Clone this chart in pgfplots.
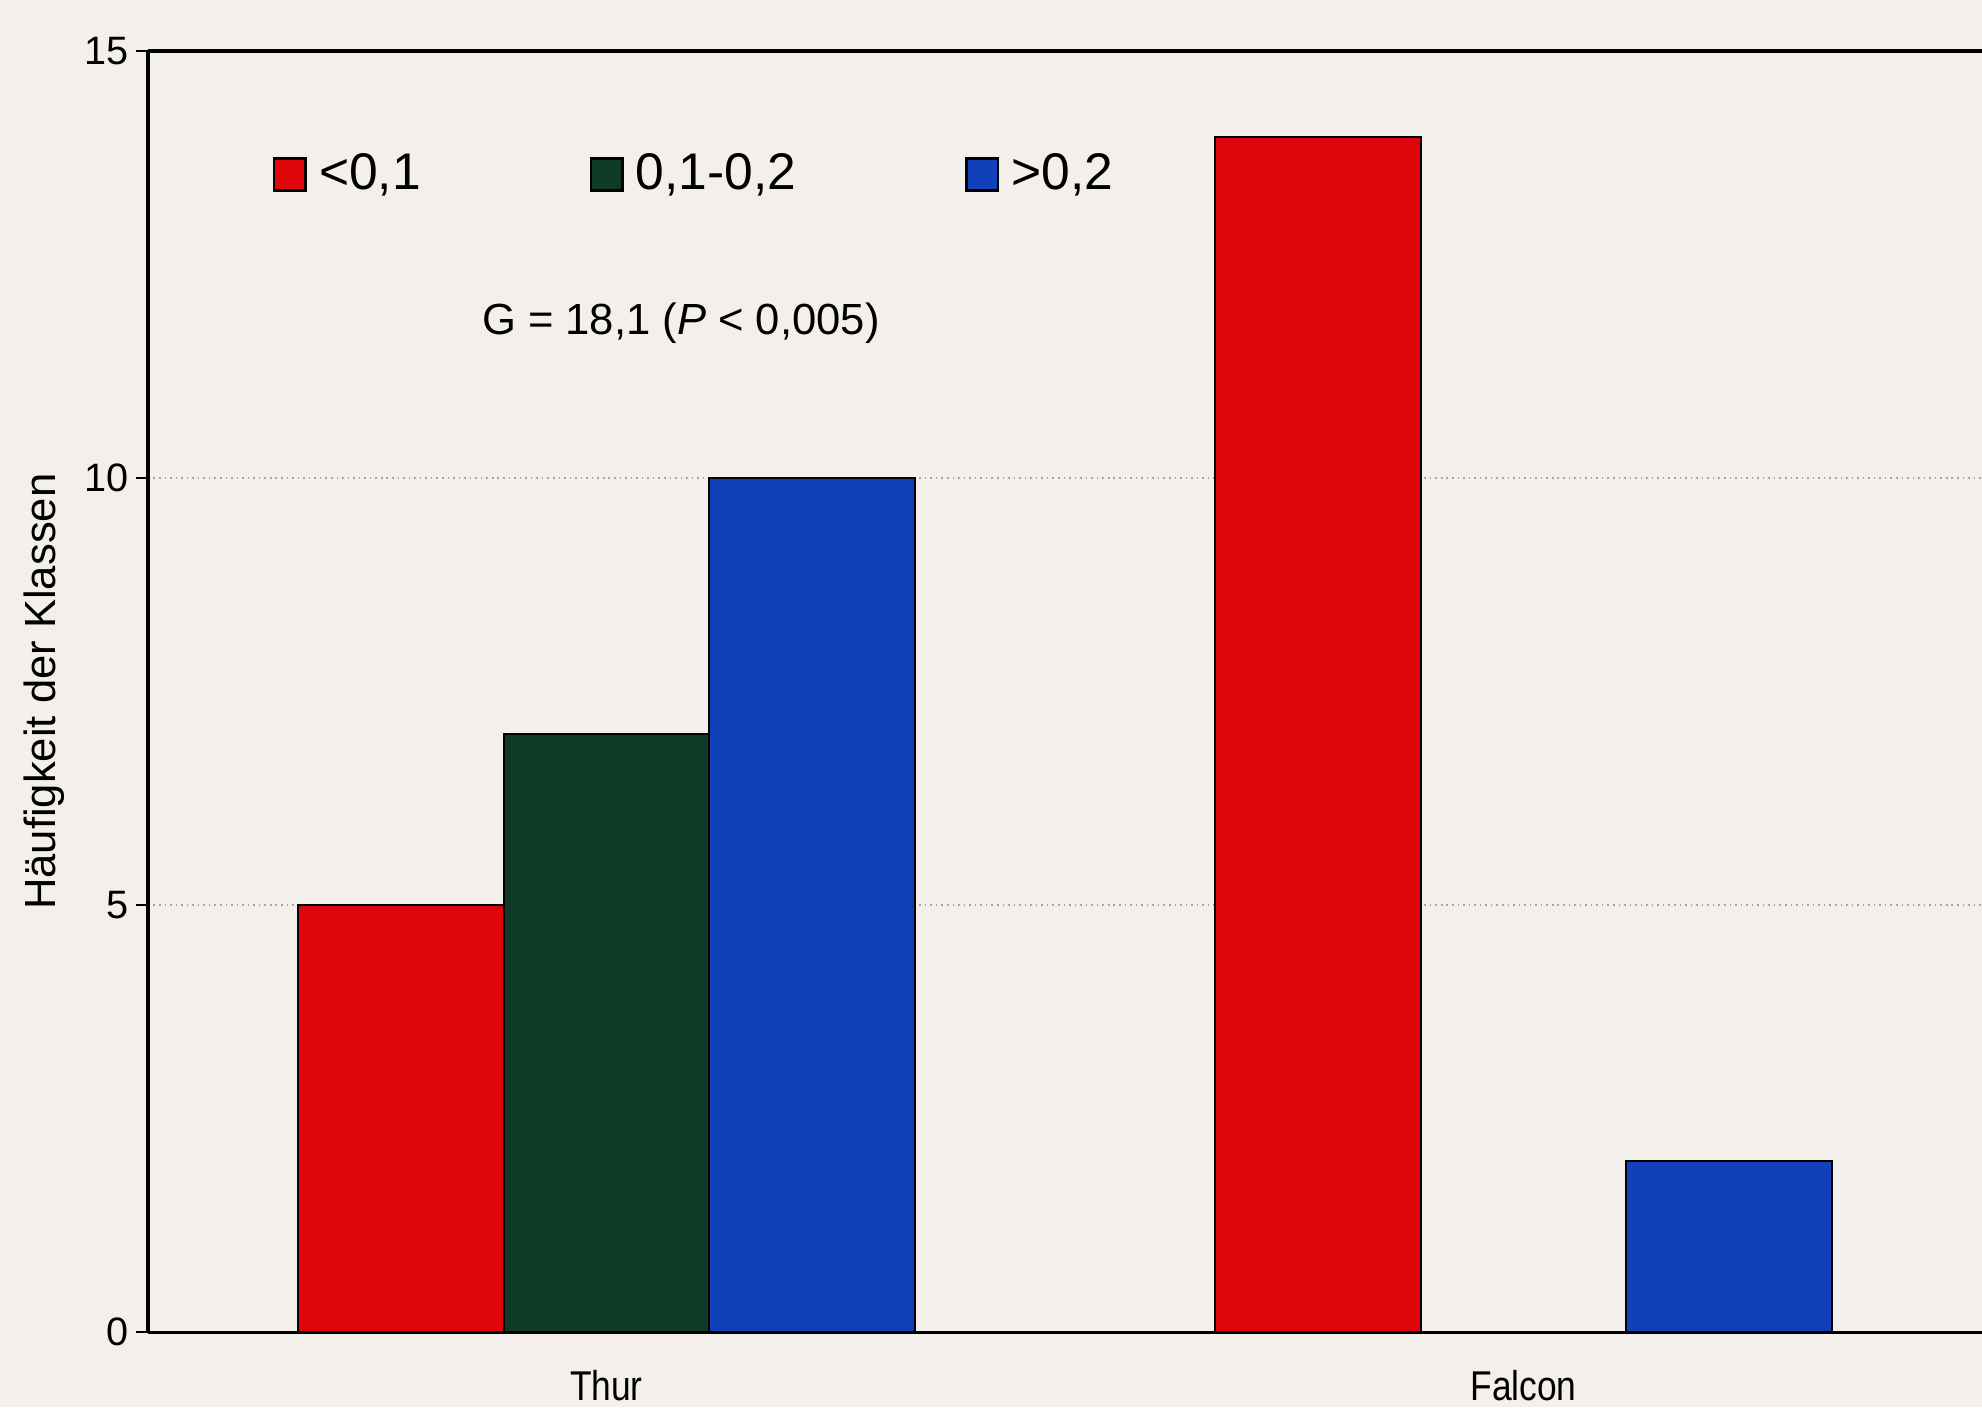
\documentclass[border=0pt]{standalone}
\usepackage{pgfplots}
\pgfplotsset{compat=1.18}
\usepackage{fontspec}
\setmainfont{Liberation Sans}
\newfontfamily\narrowfont[FakeStretch=0.85]{Liberation Sans}
\definecolor{barred}{RGB}{222,6,10}
\definecolor{bargreen}{RGB}{14,58,38}
\definecolor{barblue}{RGB}{18,64,186}
\definecolor{bgcol}{RGB}{243,240,236}
\begin{document}
\begin{tikzpicture}
\fill[bgcol] (-37.3pt,-18.9pt) rectangle (462.7pt,336.1pt);
\begin{axis}[
  at={(0pt,0pt)}, anchor=south west,
  scale only axis, width=462.7pt, height=323.2pt,
  xmin=-0.5, xmax=1.5, ymin=0, ymax=15,
  axis x line*=box, axis y line*=left,
  axis line style={line width=0.9pt, black},
  xtick={0,1}, xticklabels={Thur,Falcon},
  xticklabel style={font=\narrowfont\fontsize{10.5}{12}\selectfont, anchor=base, yshift=-14.2pt},
  major x tick style={draw=none},
  ytick={0,5,10,15},
  ytick align=outside, major tick length=3pt,
  major y tick style={black, line width=0.6pt},
  yticklabel style={font=\fontsize{10}{12}\selectfont, xshift=1.6pt},
  /pgf/number format/assume math mode=true,
  ymajorgrids, major grid style={densely dotted, black!35, line width=0.6pt},
  ylabel={Häufigkeit der Klassen},
  every axis y label/.style={at={(axis description cs:-0.0564,0.5)}, rotate=90, anchor=center, font=\fontsize{11}{13}\selectfont},
  ybar=0pt, bar width=0.224,
  legend columns=3,
  legend style={at={(axis description cs:0.0676,0.9037)}, anchor=west, draw=none, fill=none, inner sep=0pt,
    font=\fontsize{13}{15}\selectfont,
    /tikz/every odd column/.append style={column sep=1.5pt},
    /tikz/every even column/.append style={column sep=41pt},
    nodes={inner sep=1.6pt}},
  legend cell align=left,
]
\addplot[fill=barred, draw=black, line width=0.5pt, bar shift=-0.224,
  legend image code/.code={\draw[fill=barred, draw=black, line width=0.6pt] (0pt,-4pt) rectangle (8pt,4pt);}]
  coordinates {(0,5) (1,14)};
\addlegendentry{<0,1}
\addplot[fill=bargreen, draw=black, line width=0.5pt, bar shift=0,
  legend image code/.code={\draw[fill=bargreen, draw=black, line width=0.6pt] (0pt,-4pt) rectangle (8pt,4pt);}]
  coordinates {(0,7)};
\addlegendentry{0,1-0,2}
\addplot[fill=barblue, draw=black, line width=0.5pt, bar shift=0.224,
  legend image code/.code={\draw[fill=barblue, draw=black, line width=0.6pt] (0pt,-4pt) rectangle (8pt,4pt);}]
  coordinates {(0,10) (1,2)};
\addlegendentry{>0,2}
\node[font=\fontsize{11}{13}\selectfont] at (axis description cs:0.2906,0.788) {G = 18,1 (\textit{P} < 0,005)};
\end{axis}
\pgfresetboundingbox
\path[use as bounding box] (-37.3pt,-18.9pt) rectangle (462.7pt,336.1pt);
\end{tikzpicture}
\end{document}
